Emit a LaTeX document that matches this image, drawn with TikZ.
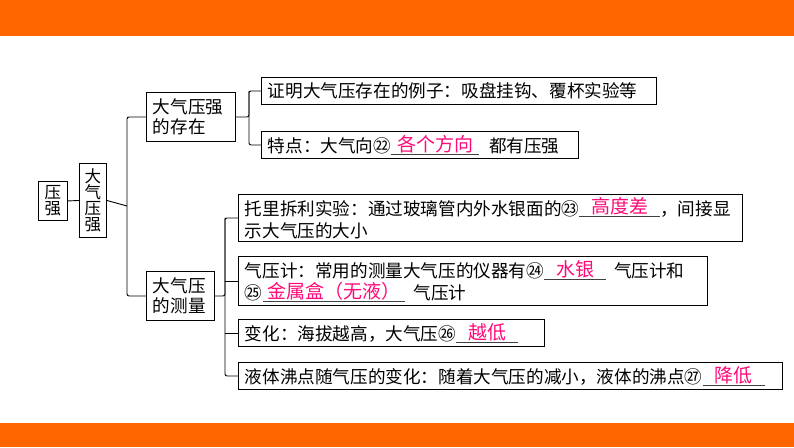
\documentclass[tikz,border=0pt]{standalone}
\usepackage{fontspec}
\setmainfont{Noto Sans CJK SC}
\usetikzlibrary{positioning,calc}
\definecolor{barorange}{HTML}{FF6600}
\definecolor{answer}{HTML}{FF0A78}
\newcommand{\fillin}[2]{\rlap{\color{black!75}\rule[-2pt]{#1}{0.6pt}}\makebox[#1]{\raisebox{1.5pt}{\color{answer}\fontsize{19}{19}\selectfont #2}}}
\tikzset{
    mapbox/.style={draw, line width=0.9pt, anchor=north west, align=left,
        inner xsep=6.5pt, inner ysep=0pt, font=\fontsize{17.6}{22}\selectfont},
    vertbox/.style={draw, line width=0.9pt, anchor=north west, align=center,
        inner sep=0pt, font=\fontsize{16.5}{16}\selectfont},
    link/.style={line width=0.9pt, rounded corners=2pt}
}

\begin{document}
\begin{tikzpicture}[x=1pt, y=-1pt]
\useasboundingbox (0,0) rectangle (794,447);
\fill[barorange] (0,0) rectangle (794,36);
\fill[barorange] (0,423) rectangle (794,447);

% left column
\node[vertbox, minimum width=29pt, minimum height=39pt] (yaqiang) at (38,181) {压\\强};
\node[vertbox, minimum width=27pt, minimum height=74pt] (dqyq) at (79,163) {大\\气\\压\\强};
\node[mapbox, text width=76pt, minimum height=49pt, font=\fontsize{17.6}{20}\selectfont] (cunzai) at (146,92) {大气压强\\的存在};
\node[mapbox, text width=55pt, minimum height=49pt, font=\fontsize{17.6}{20}\selectfont] (celiang) at (146,271) {大气压\\的测量};

% existence
\node[mapbox, text width=382pt, minimum height=27pt] (zhengming) at (261,77) {证明大气压存在的例子：吸盘挂钩、覆杯实验等};
\node[mapbox, text width=304pt, minimum height=27pt] (tedian) at (261,131) {特点：大气向㉒\fillin{88pt}{各个方向}\hspace{10pt}都有压强};

% measurement
\node[mapbox, text width=491pt, minimum height=47pt] (tuoli) at (238,194) {托里拆利实验：通过玻璃管内外水银面的㉓\fillin{81pt}{高度差}，间接显\\示大气压的大小};
\node[mapbox, text width=456pt, minimum height=49pt] (qiyaji) at (238,256) {气压计：常用的测量大气压的仪器有㉔\fillin{62pt}{水银}\hspace{8pt}气压计和\\㉕\fillin{142pt}{金属盒（无液）}\hspace{9pt}气压计};
\node[mapbox, text width=293pt, minimum height=27pt] (bianhua) at (238,319) {变化：海拔越高，大气压㉖\fillin{62pt}{越低}};
\node[mapbox, text width=531pt, minimum height=27pt] (yeti) at (238,362) {液体沸点随气压的变化：随着大气压的减小，液体的沸点㉗\fillin{62pt}{降低}};

% connectors
\coordinate (jleft) at (127,206);
\draw[link] (yaqiang.east) -- (dqyq.west);
\draw[link] (dqyq.east) -- (jleft);
\draw[link] (cunzai.west) -- ++(-19,0) |- (celiang.west);
\draw[link] (cunzai.east) -| ($(zhengming.west)+(-12,0)$);
\draw[link] (zhengming.west) -- ++(-12,0) |- (tedian.west);
\draw[link] (celiang.east) -| ($(tuoli.west)+(-13,0)$);
\draw[link] (tuoli.west) -- ++(-13,0) |- (yeti.west);
\draw[link] (qiyaji.west) -- ++(-13,0);
\draw[link] (bianhua.west) -- ++(-13,0);
\end{tikzpicture}
\end{document}
